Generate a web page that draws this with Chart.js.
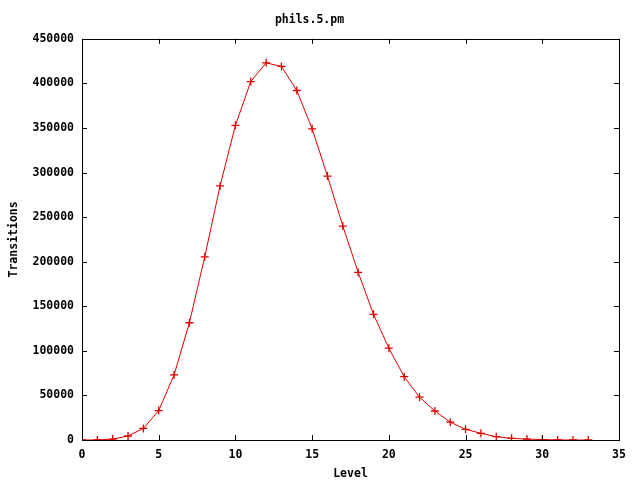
<!DOCTYPE html>
<html>
<head>
<meta charset="utf-8">
<script src="https://cdn.jsdelivr.net/npm/chart.js@4/dist/chart.umd.min.js"></script>
<style>
  html, body { margin: 0; padding: 0; background: #fff; }
  #wrap { width: 640px; height: 480px; }
</style>
</head>
<body>
<div id="wrap"><canvas id="levels_chart" width="640" height="480"></canvas></div>
<script>
// data
var levels = [0, 1, 2, 3, 4, 5, 6, 7, 8, 9, 10, 11, 12, 13, 14, 15, 16, 17, 18, 19, 20, 21, 22, 23, 24, 25, 26, 27, 28, 29, 30, 31, 32, 33]
var transitions = [0, 100, 1000, 4500, 13000, 33000, 73000, 131500, 205500, 285000, 353000, 402000, 423000, 419000, 392000, 349000, 296000, 240000, 188000, 141000, 103000, 71000, 48000, 32500, 20000, 12000, 7500, 3700, 1900, 1000, 500, 100, 0, 0]
var xTicks = [0, 5, 10, 15, 20, 25, 30, 35]
var yTicks = [0, 50000, 100000, 150000, 200000, 250000, 300000, 350000, 400000, 450000]

var monoFont = { family: "'DejaVu Sans Mono', 'Liberation Mono', monospace", size: 11.5, weight: 'bold' }

var points = levels.map(function (l, i) { return { x: l, y: transitions[i] } })

// frame + inward ticks on all four sides, gnuplot style
var framePlugin = {
    id: 'frame',
    afterDatasetsDraw: function (chart) {
        var ctx = chart.ctx
        var a = chart.chartArea
        var xs = chart.scales.x
        var ys = chart.scales.y
        ctx.save()
        ctx.strokeStyle = '#000'
        ctx.lineWidth = 1
        ctx.beginPath()
        xTicks.forEach(function (t) {
            var px = Math.round(xs.getPixelForValue(t)) + 0.5
            ctx.moveTo(px, a.bottom); ctx.lineTo(px, a.bottom - 5)
            ctx.moveTo(px, a.top); ctx.lineTo(px, a.top + 5)
        })
        yTicks.forEach(function (t) {
            var py = Math.round(ys.getPixelForValue(t)) + 0.5
            ctx.moveTo(a.left, py); ctx.lineTo(a.left + 5, py)
            ctx.moveTo(a.right, py); ctx.lineTo(a.right - 5, py)
        })
        ctx.stroke()
        ctx.strokeRect(Math.round(a.left) + 0.5, Math.round(a.top) + 0.5,
            Math.round(a.right - a.left), Math.round(a.bottom - a.top))
        ctx.restore()
    }
}

var levelsCanvas = document.getElementById("levels_chart")
var config = {
    type: "scatter",
    data: {
        datasets: [{
            label: "phils.5.pm",
            data: points,
            showLine: true,
            borderColor: "#e00000",
            backgroundColor: "#e00000",
            borderWidth: 1,
            pointStyle: "cross",
            pointRadius: 4,
            pointBorderWidth: 1.3,
            tension: 0
        }]
    },
    options: {
        responsive: false,
        animation: false,
        layout: { padding: { left: 0, right: 21, top: 0, bottom: 0 } },
        plugins: {
            legend: { display: false },
            tooltip: { enabled: false },
            title: {
                display: true,
                text: "phils.5.pm",
                color: "#000",
                font: monoFont,
                padding: { top: 13, bottom: 12 }
            }
        },
        scales: {
            x: {
                type: "linear",
                min: 0,
                max: 35,
                afterBuildTicks: function (s) { s.ticks = xTicks.map(function (v) { return { value: v } }) },
                afterFit: function (s) { s.height = 40 },
                grid: { display: false, drawTicks: false },
                border: { display: false },
                ticks: { color: "#000", font: monoFont, padding: 8, maxRotation: 0 },
                title: { display: true, text: "Level", color: "#000", font: monoFont, padding: { top: 0, bottom: -1 } }
            },
            y: {
                type: "linear",
                min: 0,
                max: 450000,
                afterBuildTicks: function (s) { s.ticks = yTicks.map(function (v) { return { value: v } }) },
                afterFit: function (s) { s.width = 82 },
                grid: { display: false, drawTicks: false },
                border: { display: false },
                ticks: { color: "#000", font: monoFont, padding: 8, callback: function (v) { return String(v) } },
                title: { display: true, text: "Transitions", color: "#000", font: monoFont, padding: { top: 7, bottom: 0 } }
            }
        }
    },
    plugins: [framePlugin]
}

var levels_chart = new Chart(levelsCanvas, config)
</script>
</body>
</html>
